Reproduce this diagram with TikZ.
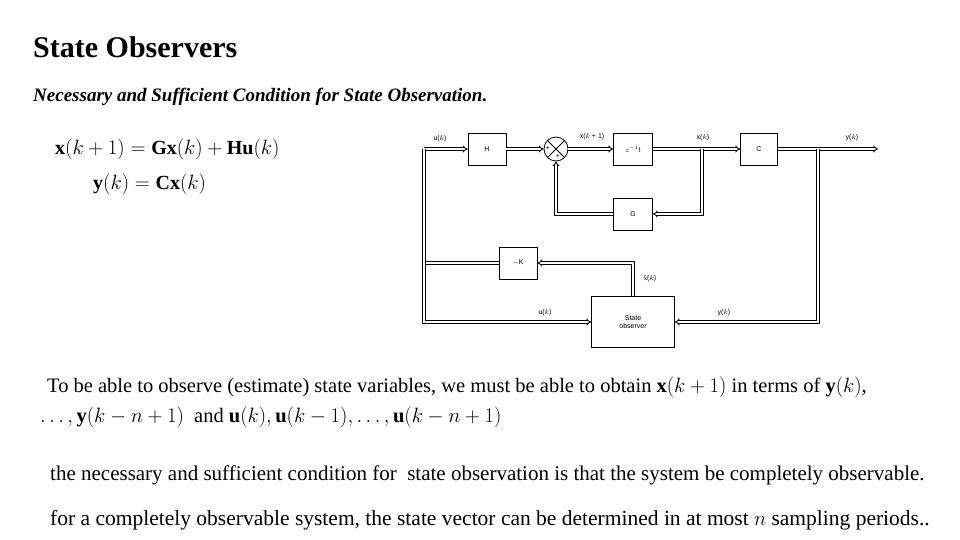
\documentclass[tikz,border=0pt]{standalone}
\usepackage{fontspec}
\setmainfont{Liberation Serif}
\setsansfont{Liberation Sans}
\usepackage{amsmath}
\usetikzlibrary{arrows.meta}
\tikzset{
  blk/.style={draw, thick, fill=white, font=\sffamily\fontsize{7}{8}\selectfont, inner sep=0pt},
  sig/.style={double, thick, double distance=1.6pt},
  sigarr/.style={sig, -{Implies[]}},
  lbl/.style={font=\sffamily\fontsize{7}{8}\selectfont, inner sep=1pt},
  txt/.style={anchor=west, inner sep=0pt}
}
\begin{document}
\begin{tikzpicture}[x=1pt,y=-1pt]
  \useasboundingbox (0,0) rectangle (960,540);

	% Headings and equations
  \node[txt, font=\fontsize{30}{34}\selectfont\bfseries] (title) at (33,47) {State Observers};
  \node[txt, font=\fontsize{19}{22}\selectfont\bfseries\itshape] (sub) at (33,97) {Necessary and Sufficient Condition for State Observation.};
  \node[txt, font=\fontsize{20}{23}\selectfont] (eq1) at (55,149) {$\mathbf{x}(k+1)=\mathbf{Gx}(k)+\mathbf{Hu}(k)$};
  \node[txt, font=\fontsize{20}{23}\selectfont] (eq2) at (93,184) {$\mathbf{y}(k)=\mathbf{Cx}(k)$};

	% Blocks
  \node[blk, minimum width=38, minimum height=32] (H) at (487,149) {H};
  \node[draw, thick, circle, minimum size=24, inner sep=0pt] (sum) at (556,149) {};
  \draw[thick] (sum.north west) -- (sum.south east) (sum.north east) -- (sum.south west);
  \node[lbl] at (548,148) {+};
  \node[lbl] at (558,156) {+};
  \node[blk, minimum width=39, minimum height=32] (Z) at (633,149) {$z^{-1}$I};
  \node[blk, minimum width=37, minimum height=32] (C) at (759,149) {C};
  \node[blk, minimum width=39, minimum height=32] (G) at (633,214) {G};
  \node[blk, minimum width=38, minimum height=32] (K) at (518,263) {$-$K};
  \node[blk, minimum width=83, minimum height=51, align=center] (obs) at (633,322) {State\\observer};

	% Coordinates
  \coordinate (uL) at (424,149);
  \coordinate (uB) at (424,322);
  \coordinate (kL) at (424,263);
  \coordinate (xb) at (702,149);
  \coordinate (yb) at (818,149);
  \coordinate (yout) at (878,149);

	% Connectors
  \draw[sigarr] (uL) -- (H);
  \draw[sigarr] (H) -- (sum);
  \draw[sigarr] (sum) -- (Z);
  \draw[sigarr] (Z) -- (C);
  \draw[sigarr] (C) -- (yout);
  \draw[sigarr] (xb) |- (G);
  \draw[sigarr] (G) -| (sum);
  \draw[sigarr] (obs.north) |- (K);
  \draw[sig] (K) -- (kL);
  \draw[sigarr] (uL) -- (uB) -- (obs);
  \draw[sigarr] (yb) |- (obs);

	% Labels
  \node[lbl] (lu) at (440,139) {u($k$)};
  \node[lbl] (lx1) at (592,137) {x($k$ + 1)};
  \node[lbl] (lx) at (703,138) {x($k$)};
  \node[lbl] (ly) at (852,138) {y($k$)};
  \node[lbl] (lxh) at (650,279) {$\tilde{\mathrm{x}}$($k$)};
  \node[lbl] (lu2) at (545,313) {u($k$)};
  \node[lbl] (ly2) at (724,313) {y($k$)};

	% Text
  \node[txt, font=\fontsize{20.5}{24}\selectfont] (t1) at (47,387) {To be able to observe (estimate) state variables, we must be able to obtain $\mathbf{x}(k+1)$ in terms of $\mathbf{y}(k)$,};
  \node[txt, font=\fontsize{20.5}{24}\selectfont] (t2) at (40,417) {$\ldots,\mathbf{y}(k-n+1)$ \ and $\mathbf{u}(k),\mathbf{u}(k-1),\ldots,\mathbf{u}(k-n+1)$};
  \node[txt, font=\fontsize{21}{24}\selectfont] (t3) at (50,475) {the necessary and sufficient condition for \ state observation is that the system be completely observable.};
  \node[txt, font=\fontsize{21.5}{24}\selectfont] (t4) at (50,520) {for a completely observable system, the state vector can be determined in at most $n$ sampling periods..};
\end{tikzpicture}
\end{document}
